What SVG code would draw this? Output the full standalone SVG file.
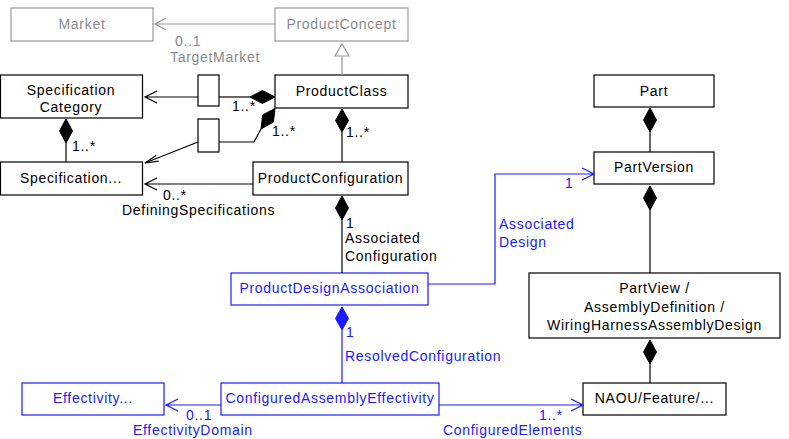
<svg xmlns="http://www.w3.org/2000/svg" width="789" height="439" viewBox="0 0 789 439">
<defs>
<style>
text{font-family:"Liberation Sans",Arial,sans-serif;font-size:14px;letter-spacing:0.7px}
.c{text-anchor:middle}
.k rect{fill:#fff;stroke:#000;stroke-width:1.2}
.k text{fill:#000}
.g rect{fill:#fff;stroke:#999;stroke-width:1.2}
.g text{fill:#8a8a8a}
.b rect{fill:#fff;stroke:#1a1aff;stroke-width:1.2}
.b text{fill:#1a1aff}
.lk{stroke:#000;stroke-width:1.2;fill:none}
.lg{stroke:#999;stroke-width:1.2;fill:none}
.lb{stroke:#1a1aff;stroke-width:1.2;fill:none}
.dk{fill:#000;stroke:#000}
.db{fill:#1a1aff;stroke:#1a1aff}
.tk{fill:#000}
.tg{fill:#8a8a8a}
.tb{fill:#1a1aff}
</style>
</defs>
<g id="Market" class="g"><rect x="11" y="8" width="142" height="33"/><text class="c" x="82" y="29">Market</text></g>
<g id="ProductConcept" class="g"><rect x="275" y="8" width="133" height="33"/><text class="c" x="341.5" y="29">ProductConcept</text></g>
<g id="ProductClass" class="k"><rect x="275" y="75" width="133" height="33"/><text class="c" x="341.5" y="96">ProductClass</text></g>
<g id="SpecificationCategory" class="k"><rect x="0.5" y="75" width="142" height="43"/><text class="c" x="71" y="95">Specification</text><text class="c" x="71" y="112">Category</text></g>
<g id="Qualifier1" class="k"><rect x="198" y="75" width="21" height="31"/></g>
<g id="Qualifier2" class="k"><rect x="198" y="119" width="21" height="33"/></g>
<g id="Specification" class="k"><rect x="0.5" y="162" width="142" height="33"/><text class="c" x="71" y="183">Specification...</text></g>
<g id="ProductConfiguration" class="k"><rect x="253" y="162" width="155" height="33"/><text class="c" x="330.5" y="183">ProductConfiguration</text></g>
<g id="ProductDesignAssociation" class="b"><rect x="231" y="273" width="197" height="32"/><text class="c" x="329.5" y="293">ProductDesignAssociation</text></g>
<g id="Part" class="k"><rect x="594" y="75" width="120" height="32"/><text class="c" x="654" y="96">Part</text></g>
<g id="PartVersion" class="k"><rect x="594" y="152" width="120" height="32"/><text class="c" x="654" y="172">PartVersion</text></g>
<g id="PartView" class="k"><rect x="529" y="273" width="251" height="65"/><text class="c" x="654.5" y="293">PartView /</text><text class="c" x="654.5" y="312">AssemblyDefinition /</text><text class="c" x="654.5" y="330">WiringHarnessAssemblyDesign</text></g>
<g id="Effectivity" class="b"><rect x="22" y="383" width="142" height="32"/><text class="c" x="93" y="403">Effectivity...</text></g>
<g id="ConfiguredAssemblyEffectivity" class="b"><rect x="221" y="383" width="218" height="32"/><text class="c" x="330" y="403">ConfiguredAssemblyEffectivity</text></g>
<g id="NAOU" class="k"><rect x="583" y="383" width="143" height="32"/><text class="c" x="654.5" y="403">NAOU/Feature/...</text></g>
<g id="connectors">
<path class="lg" d="M275,24H155M166,18L155,24L166,30"/>
<text class="tg" x="175" y="46">0..1</text>
<text class="tg" x="170" y="62">TargetMarket</text>
<path class="lg" d="M342,56V75"/>
<path d="M342,44L335,56H349Z" fill="#fff" stroke="#999" stroke-width="1.2"/>
<path class="lk" d="M198,97H145M157,91L145,97L157,103"/>
<path class="lk" d="M219,97H250"/>
<path class="dk" d="M275,97L262.5,90.5L250,97L262.5,103.5Z"/>
<text class="tk" x="232" y="111">1..*</text>
<path class="lk" d="M198,142L145,163"/>
<path class="lk" d="M156.3,155.2L145,163L158.6,161.2"/>
<path class="lk" d="M219,142H254L261,129"/>
<path class="dk" d="M275,108.5L273.4,122.1L261,129L262.6,114.9Z"/>
<text class="tk" x="272" y="136">1..*</text>
<path class="lk" d="M66,143V162"/>
<path class="dk" d="M66,119L72.5,131L66,143L59.5,131Z"/>
<text class="tk" x="72" y="151">1..*</text>
<path class="lk" d="M253,184H145M157,178L145,184L157,190"/>
<text class="tk" x="163" y="200">0..*</text>
<text class="tk" x="122" y="215">DefiningSpecifications</text>
<path class="lk" d="M342,132V162"/>
<path class="dk" d="M342,109L348.5,120.5L342,132L335.5,120.5Z"/>
<text class="tk" x="346" y="137">1..*</text>
<path class="lk" d="M342,220V273"/>
<path class="dk" d="M342,196L348.5,208L342,220L335.5,208Z"/>
<text class="tk" x="346" y="228">1</text>
<text class="tk" x="345" y="243">Associated</text>
<text class="tk" x="345" y="261">Configuration</text>
<path class="lb" d="M428,284H495V174H594M582,168L594,174L582,180"/>
<text class="tb" x="565" y="188">1</text>
<text class="tb" x="499" y="229">Associated</text>
<text class="tb" x="499" y="247">Design</text>
<path class="lb" d="M342,330V383"/>
<path class="db" d="M342,307L348.5,318.5L342,330L335.5,318.5Z"/>
<text class="tb" x="346" y="337">1</text>
<text class="tb" x="345" y="361">ResolvedConfiguration</text>
<path class="lk" d="M650,132V152"/>
<path class="dk" d="M650,108L656.5,120L650,132L643.5,120Z"/>
<path class="lk" d="M650,210V273"/>
<path class="dk" d="M650,186L656.5,198L650,210L643.5,198Z"/>
<path class="lk" d="M650,364V383"/>
<path class="dk" d="M650,340L656.5,352L650,364L643.5,352Z"/>
<path class="lb" d="M221,405H166M178,399L166,405L178,411"/>
<text class="tb" x="186" y="420">0..1</text>
<text class="tb" x="133" y="435">EffectivityDomain</text>
<path class="lb" d="M439,405H583M571,399L583,405L571,411"/>
<text class="tb" x="539" y="420">1..*</text>
<text class="tb" x="443" y="435">ConfiguredElements</text>
</g>
</svg>
